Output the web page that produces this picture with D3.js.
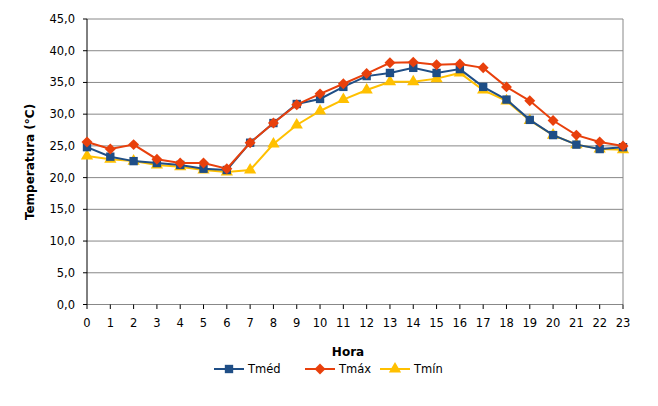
<!DOCTYPE html><html><head><meta charset="utf-8"><script src="https://cdn.jsdelivr.net/npm/d3@7"></script>
<style>body{margin:0;background:#fff}text{font-family:Verdana,"DejaVu Sans",sans-serif}</style></head><body><svg id="c" width="658" height="406"></svg><script>
const hours=d3.range(24);
const tmed=[24.8,23.3,22.6,22.3,22.0,21.4,21.2,25.5,28.6,31.6,32.4,34.3,36.0,36.5,37.3,36.5,37.1,34.3,32.3,29.1,26.7,25.2,24.5,24.8];
const tmax=[25.6,24.5,25.2,22.9,22.3,22.3,21.4,25.5,28.6,31.5,33.2,34.8,36.4,38.1,38.2,37.8,37.9,37.3,34.3,32.1,29.0,26.7,25.6,25.0];
const tmin=[23.4,22.9,22.6,22.0,21.7,21.2,20.9,21.2,25.3,28.3,30.5,32.3,33.8,35.1,35.1,35.6,36.5,33.8,32.1,29.0,26.7,25.2,24.5,24.4];
const yTicks=d3.range(0,46,5);
const svg=d3.select("#c");
const x=d3.scaleLinear().domain([0,23]).range([87,623]);
const y=d3.scaleLinear().domain([0,45]).range([304.5,19]);
const g=svg.append("g");
yTicks.forEach(t=>{g.append("line").attr("x1",87).attr("x2",623).attr("y1",y(t)).attr("y2",y(t)).attr("stroke","#888").attr("stroke-width",1);
g.append("text").attr("x",75).attr("y",y(t)+4).attr("text-anchor","end").attr("font-size",11.5).text(t.toFixed(1).replace(".",","));
g.append("line").attr("x1",83).attr("x2",87).attr("y1",y(t)).attr("y2",y(t)).attr("stroke","#000");});
g.append("line").attr("x1",87).attr("x2",87).attr("y1",19).attr("y2",304.5).attr("stroke","#000");
g.append("line").attr("x1",623).attr("x2",623).attr("y1",19).attr("y2",304.5).attr("stroke","#888");
hours.forEach(h=>{g.append("text").attr("x",x(h)).attr("y",327).attr("text-anchor","middle").attr("font-size",11.5).text(h);
g.append("line").attr("x1",x(h)).attr("x2",x(h)).attr("y1",304.5).attr("y2",309).attr("stroke","#000");});
svg.append("text").attr("x",348).attr("y",356).attr("text-anchor","middle").attr("font-size",12).attr("font-weight","bold").text("Hora");
svg.append("text").attr("transform","translate(34,162) rotate(-90)").attr("text-anchor","middle").attr("font-size",12).attr("font-weight","bold").text("Temperatura (°C)");
const series=[{n:"Tméd",d:tmed,c:"#1F4E86",s:d3.symbolSquare,sz:70,r:0},{n:"Tmáx",d:tmax,c:"#E8400C",s:d3.symbolSquare,sz:60,r:45},{n:"Tmín",d:tmin,c:"#FFC000",s:d3.symbolTriangle,sz:65,r:0}];
const line=d3.line().x((d,i)=>x(i)).y(d=>y(d));
[series[2],series[0],series[1]].forEach(s=>{
svg.append("path").attr("d",line(s.d)).attr("fill","none").attr("stroke",s.c).attr("stroke-width",2);
s.d.forEach((v,i)=>svg.append("path").attr("d",d3.symbol(s.s,s.sz)()).attr("transform",`translate(${x(i)},${y(v)}) rotate(${s.r})`).attr("fill",s.c));});
const lx=[214,305,380];
series.forEach((s,i)=>{const L=svg.append("g").attr("transform",`translate(${lx[i]},369)`);
L.append("line").attr("x1",0).attr("x2",30).attr("stroke",s.c).attr("stroke-width",2);
L.append("path").attr("d",d3.symbol(s.s,s.sz)()).attr("transform",`translate(15,0) rotate(${s.r})`).attr("fill",s.c);
L.append("text").attr("x",34).attr("y",4).attr("font-size",11.5).text(s.n);});
</script></body></html>
